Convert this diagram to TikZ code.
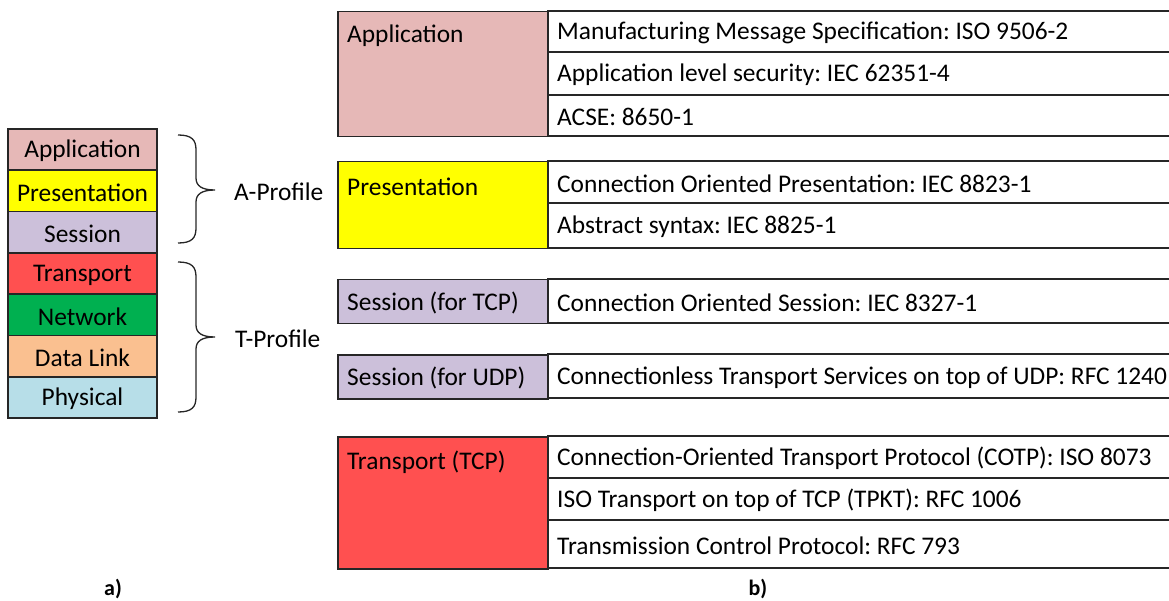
\documentclass[tikz,border=0pt]{standalone}
\usepackage{fontspec}
\setmainfont{Carlito}
\frenchspacing
\begin{document}
\begin{tikzpicture}[x=1pt,y=-1pt,
  every node/.style={font=\fontsize{25.4}{29}\selectfont, inner sep=0pt},
  txt/.style={yshift=-1.5pt},
  edge/.style={line width=1.5pt, draw=black!85},
  layer/.style={edge, draw, minimum width=149pt, minimum height=41.3pt},
  cell/.style={edge, draw, anchor=north west, minimum width=210pt},
  rowtext/.style={txt, anchor=west},
  tag/.style={font=\fontsize{22}{26}\selectfont\bfseries}]
\definecolor{appc}{HTML}{E6B8B7}
\definecolor{prec}{HTML}{FFFF00}
\definecolor{sesc}{HTML}{CCC0DA}
\definecolor{trac}{HTML}{FF5050}
\definecolor{netc}{HTML}{00B050}
\definecolor{dlkc}{HTML}{FAC090}
\definecolor{phyc}{HTML}{B7DEE8}
\useasboundingbox (0,0) rectangle (1169,601);

% OSI stack
\node[layer, fill=appc] (lApp) at (82.5,149.6) {};
\node[layer, fill=prec] (lPre) at (82.5,190.9) {};
\node[layer, fill=sesc] (lSes) at (82.5,232.2) {};
\node[layer, fill=trac] (lTra) at (82.5,273.5) {};
\node[layer, fill=netc] (lNet) at (82.5,314.8) {};
\node[layer, fill=dlkc] (lDlk) at (82.5,356.1) {};
\node[layer, fill=phyc] (lPhy) at (82.5,397.4) {};
\node[txt] (nApp) at (lApp) {Application};
\node[txt] (nPre) at (lPre) {Presentation};
\node[txt] (nSes) at (lSes) {Session};
\node[txt] (nTra) at (lTra) {Transport};
\node[txt] (nNet) at (lNet) {Network};
\node[txt] (nDlk) at (lDlk) {Data Link};
\node[txt] (nPhy) at (lPhy) {Physical};

% profile braces
\newcommand\profilebrace[3]{%
  \draw[line width=1.3pt, black!85] (178,#1) .. controls (192,#1) and (196,#1+5) .. (196,#1+15)
    -- (196,#2-12) .. controls (196,#2-4) and (202,#2) .. (215,#2)
    .. controls (202,#2) and (196,#2+4) .. (196,#2+12)
    -- (196,#3-15) .. controls (196,#3-5) and (192,#3) .. (178,#3);}
\profilebrace{135}{190}{243}
\profilebrace{262}{337}{412}
\node[rowtext] (aprof) at (234,190) {A-Profile};
\node[rowtext] (tprof) at (235,337) {T-Profile};

% row separators on the right-hand side
\newcommand\rowline[1]{\draw[edge] (547,#1) -- (1169,#1);}

% Application
\node[cell, fill=appc, minimum height=125pt] (bApp) at (337,11) {};
\node[rowtext] (tApp) at (347,34) {Application};
\foreach \y in {11,52,95,136} {\rowline{\y}}
\node[rowtext] (rApp1) at (557,31.5) {Manufacturing Message Specification: ISO 9506-2};
\node[rowtext] (rApp2) at (557,73.5) {Application level security: IEC 62351-4};
\node[rowtext] (rApp3) at (557,115.5) {ACSE: 8650-1};

% Presentation
\node[cell, fill=prec, minimum height=87pt] (bPre) at (337,161) {};
\node[rowtext] (tPre) at (347,185) {Presentation};
\foreach \y in {161,203,248} {\rowline{\y}}
\node[rowtext] (rPre1) at (557,182) {Connection Oriented Presentation: IEC 8823-1};
\node[rowtext] (rPre2) at (557,225.5) {Abstract syntax: IEC 8825-1};

% Session for TCP
\node[cell, fill=sesc, minimum height=44pt] (bSt) at (337,279) {};
\node[rowtext] (tSt) at (347,301) {Session (for TCP)};
\foreach \y in {279,323} {\rowline{\y}}
\node[rowtext] (rSt) at (557,301) {Connection Oriented Session: IEC 8327-1};

% Session for UDP
\node[cell, fill=sesc, minimum height=44pt] (bSu) at (337,354) {};
\node[rowtext] (tSu) at (347,376) {Session (for UDP)};
\foreach \y in {354,398} {\rowline{\y}}
\node[rowtext] (rSu) at (557,376) {Connectionless Transport Services on top of UDP: RFC 1240};

% Transport over TCP
\node[cell, fill=trac, minimum height=132pt] (bTr) at (337,436) {};
\node[rowtext] (tTr) at (347,461) {Transport (TCP)};
\foreach \y in {436,478,520,568} {\rowline{\y}}
\node[rowtext] (rTr1) at (557,457) {Connection-Oriented Transport Protocol (COTP): ISO 8073};
\node[rowtext] (rTr2) at (557,499) {ISO Transport on top of TCP (TPKT): RFC 1006};
\node[rowtext] (rTr3) at (557,544) {Transmission Control Protocol: RFC 793};

% captions
\node[tag] (capA) at (113,589) {a)};
\node[tag] (capB) at (758,589) {b)};
\end{tikzpicture}
\end{document}
